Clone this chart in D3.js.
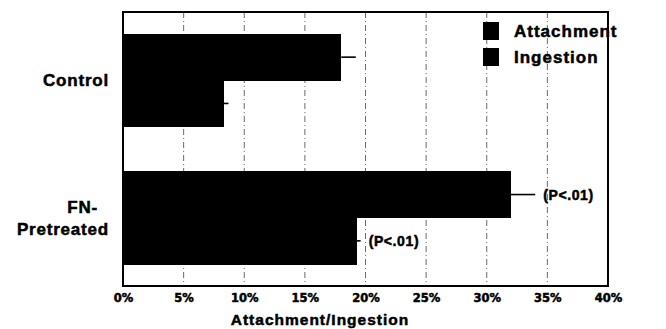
<!DOCTYPE html>
<html><head><meta charset="utf-8">
<script src="https://cdnjs.cloudflare.com/ajax/libs/d3/7.8.5/d3.min.js"></script>
<style>
body{margin:0;background:#fff;}
text{font-family:"Liberation Sans",Arial,sans-serif;font-weight:bold;fill:#000;stroke:#000;stroke-width:0.5px;}
</style></head><body>
<svg id="c" width="666" height="329"></svg>
<script>
const groups = ["Control", "FN-Pretreated"];
const series = ["Attachment", "Ingestion"];
const attachment = [18.0, 32.0];
const attachmentErr = [1.2, 2.0];
const ingestion = [8.3, 19.3];
const ingestionErr = [0.4, 0.3];
const pLabelsAttachment = ["", "(P<.01)"];
const pLabelsIngestion = ["", "(P<.01)"];
const xTicks = [0, 5, 10, 15, 20, 25, 30, 35, 40];

const svg = d3.select("#c");
const m = {l:123, r:608, t:12, b:286};
const x = d3.scaleLinear().domain([0, 40]).range([m.l, m.r]);
const y0 = d3.scaleBand().domain(groups).range([m.t, m.b]).paddingInner(0.326).paddingOuter(0.16);
const y1 = d3.scaleBand().domain(series).range([0, y0.bandwidth()]);

// gridlines
svg.append("g").selectAll("line").data(xTicks.slice(1, -1)).join("line")
  .attr("x1", d => x(d)).attr("x2", d => x(d)).attr("y1", m.t).attr("y2", m.b)
  .attr("stroke", "#444").attr("stroke-width", 0.8).attr("stroke-dasharray", "6,3,1,3");

const data = [];
groups.forEach((g, i) => {
  data.push({g, s: "Attachment", v: attachment[i], e: attachmentErr[i], p: pLabelsAttachment[i]});
  data.push({g, s: "Ingestion", v: ingestion[i], e: ingestionErr[i], p: pLabelsIngestion[i]});
});

svg.append("g").attr("shape-rendering", "crispEdges").selectAll("rect").data(data).join("rect")
  .attr("x", x(0)).attr("y", d => Math.round(y0(d.g) + y1(d.s)))
  .attr("width", d => x(d.v) - x(0)).attr("height", Math.round(y1.bandwidth()) + 1).attr("fill", "#000");

svg.append("g").selectAll("line").data(data).join("line")
  .attr("x1", d => x(d.v)).attr("x2", d => x(d.v + d.e))
  .attr("y1", d => y0(d.g) + y1(d.s) + y1.bandwidth() / 2)
  .attr("y2", d => y0(d.g) + y1(d.s) + y1.bandwidth() / 2)
  .attr("stroke", "#000").attr("stroke-width", 1.6);

svg.append("g").selectAll("text").data(data.filter(d => d.p)).join("text")
  .attr("x", d => x(d.v + d.e) + 8)
  .attr("y", d => y0(d.g) + y1(d.s) + y1.bandwidth() / 2 + 5)
  .attr("font-size", 14).attr("letter-spacing", 0.6).text(d => d.p);

// frame
svg.append("rect").attr("x", m.l).attr("y", m.t).attr("width", m.r - m.l).attr("height", m.b - m.t)
  .attr("fill", "none").attr("stroke", "#000").attr("stroke-width", 2);

// x axis
const xa = svg.append("g").attr("transform", `translate(0,${m.b})`)
  .call(d3.axisBottom(x).tickValues(xTicks).tickFormat(d => d + "%").tickSize(0).tickPadding(8));
xa.select(".domain").remove();
xa.selectAll("text").attr("font-size", 11.5).style("font-family", "'DejaVu Sans',sans-serif")
  .style("font-weight", "bold").style("stroke", "#000").style("stroke-width", "0.5px");

svg.append("text").attr("x", 320).attr("y", 325).attr("text-anchor", "middle")
  .attr("font-size", 15.5).attr("letter-spacing", 1).text("Attachment/Ingestion");

// y labels
const yl = svg.append("g");
yl.append("text").attr("x", 109).attr("y", y0("Control") + y0.bandwidth() / 2 + 6)
  .attr("text-anchor", "end").attr("font-size", 17).attr("letter-spacing", 0.8).text("Control");
const fn = yl.append("text").attr("text-anchor", "end").attr("font-size", 17).attr("letter-spacing", 0.8);
fn.append("tspan").attr("x", 98).attr("y", y0("FN-Pretreated") + y0.bandwidth() / 2 - 5).text("FN-");
fn.append("tspan").attr("x", 109).attr("y", y0("FN-Pretreated") + y0.bandwidth() / 2 + 17).text("Pretreated");

// legend
const lg = svg.append("g").selectAll("g").data(series).join("g")
  .attr("transform", (d, i) => `translate(483,${22 + i * 26})`);
lg.append("rect").attr("width", 16).attr("height", 18).attr("fill", "#000");
lg.append("text").attr("x", 31).attr("y", 15).attr("font-size", 17).attr("letter-spacing", 1).text(d => d);
</script>
</body></html>
